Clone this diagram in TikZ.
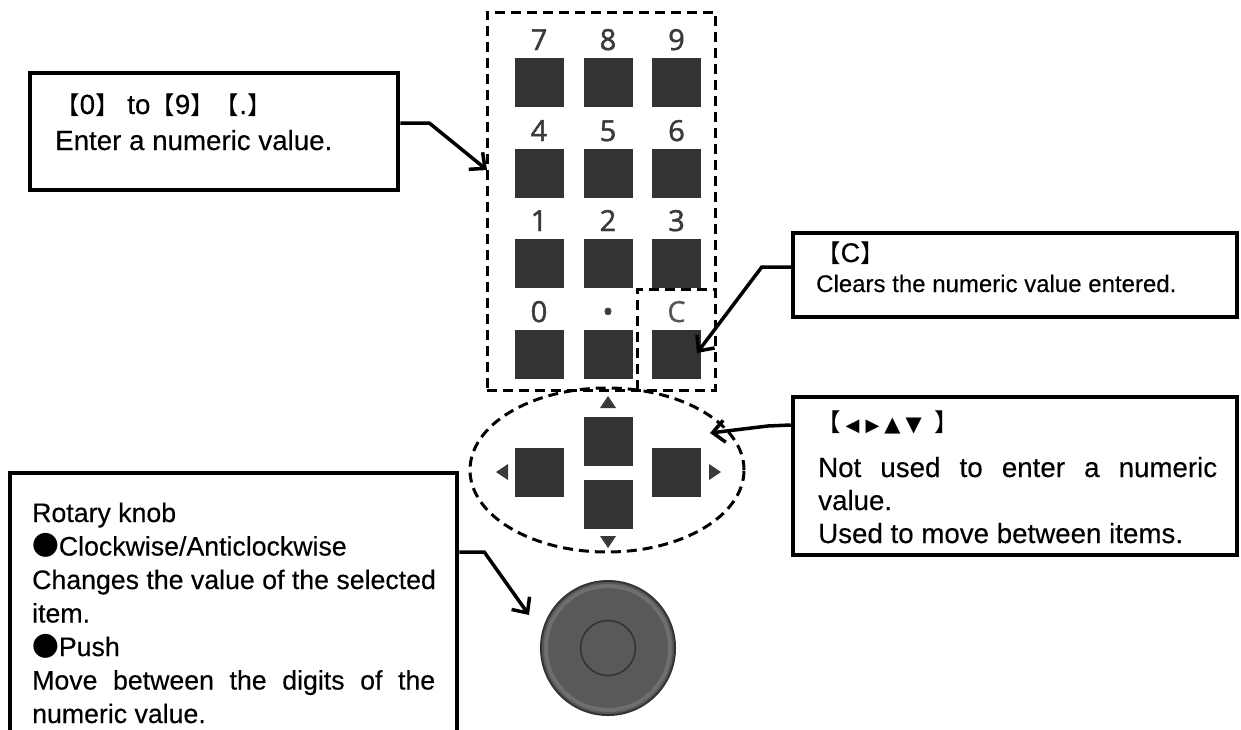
\documentclass[tikz,border=0pt]{standalone}
\usepackage{fontspec}
\setmainfont[FakeBold=0.3]{Liberation Sans}
\newfontfamily\cjk{Noto Sans CJK JP}
\newfontfamily\dejavu{DejaVu Sans}
\newfontfamily\keyfont[FakeBold=1.6]{Open Sans}
\newfontfamily\keyfontlight[FakeBold=0.5]{Open Sans}
\usetikzlibrary{arrows.meta,shapes.geometric}
\definecolor{keygray}{HTML}{333333}
\definecolor{labgray}{HTML}{3A3A3A}
\definecolor{knobgray}{HTML}{595959}
\definecolor{knobring}{HTML}{6E6E6E}
\definecolor{knobdark}{HTML}{333333}
\newcommand\bk[1]{{\cjk\fontsize{24.5pt}{24.5pt}\selectfont #1}}
\newcommand\trism[1]{{\dejavu\fontsize{18pt}{18pt}\selectfont #1}}
\newcommand\tribig[1]{{\dejavu\fontsize{21pt}{21pt}\selectfont #1}}
\begin{document}
\begin{tikzpicture}[x=1pt,y=-1pt,
  box/.style={draw=black, line width=4.5pt, inner sep=0pt, fill=white},
  dashline/.style={draw=black, line width=3pt, dash pattern=on 10pt off 6pt},
  dashbox/.style={dashline, inner sep=0pt},
  padkey/.style={fill=keygray, minimum size=49pt, inner sep=0pt},
  lab/.style={text=labgray, font=\keyfont\fontsize{29}{29}\selectfont, inner sep=0pt, anchor=base},
  txt/.style={inner sep=0pt, anchor=base west, font=\fontsize{27}{33}\selectfont},
  conn/.style={line width=3.5pt, -{Straight Barb[length=12pt,width=22pt]}},
  arrowtri/.style={fill=labgray}]
\clip (0,0) rectangle (1241,729);
\fill[white] (0,0) rectangle (1241,729);

% keypad frame and C frame
\node[dashbox, minimum width=228pt, minimum height=378pt] (pad) at (601,201) {};
\node[inner sep=0pt, minimum width=77pt, minimum height=100pt] (cframe) at (676.5,340) {};
\draw[dashline] (cframe.south west) -- (cframe.north west) -- (cframe.north east);
% oval around arrow keys
\node[dashbox, ellipse, minimum width=274pt, minimum height=164pt] (oval) at (607,470) {};

% numeric keys
\foreach \lbl/\x/\y in {7/539/82.5, 8/608/82.5, 9/676.5/82.5,
                        4/539/173.5, 5/608/173.5, 6/676.5/173.5,
                        1/539/263.5, 2/608/263.5, 3/676.5/263.5,
                        0/539/354.5, d/608/354.5, c/676.5/354.5}{
  \node[padkey] (k\lbl) at (\x,\y) {};
}
\node[lab] (l7) at (539,50) {7};
\node[lab] (l8) at (608,50) {8};
\node[lab] (l9) at (676.5,50) {9};
\node[lab] (l4) at (539,141) {4};
\node[lab] (l5) at (608,141) {5};
\node[lab] (l6) at (676.5,141) {6};
\node[lab] (l1) at (539,231) {1};
\node[lab] (l2) at (608,231) {2};
\node[lab] (l3) at (676.5,231) {3};
\node[lab] (l0) at (539,322) {0};
\node[lab] (ld) at (608,322) {•};
\node[lab, text=labgray!85, font=\keyfontlight\fontsize{29}{29}\selectfont] (lc) at (676.5,322) {C};

% arrow keys
\node[padkey] (kup) at (608,441) {};
\node[padkey] (kdown) at (608,504) {};
\node[padkey] (kleft) at (539.5,472.5) {};
\node[padkey] (kright) at (676.5,472.5) {};
\fill[arrowtri] (600,408) -- (616,408) -- (608,396) -- cycle;
\fill[arrowtri] (600,536) -- (616,536) -- (608,548) -- cycle;
\fill[arrowtri] (508,464) -- (508,480) -- (496,472) -- cycle;
\fill[arrowtri] (709,464) -- (709,480) -- (721,472) -- cycle;

% rotary knob
\node[circle, fill=knobgray, draw=knobdark, line width=2pt, minimum size=134pt, inner sep=0pt] (knob) at (608,648) {};
\draw[knobring, line width=4pt] (knob.center) circle (62);
\node[circle, draw=knobdark, line width=1.5pt, minimum size=55pt, inner sep=0pt] (knobc) at (knob.center) {};

% callout box A
\node[box, minimum width=368pt, minimum height=117pt] (boxA) at (214,131.5) {};
\node[txt, font=\fontsize{27.7}{33}\selectfont] (tA1) at (55,114) {\bk{【}0\bk{】} to\bk{【}9\bk{】【}.\bk{】}};
\node[txt, font=\fontsize{27.7}{33}\selectfont] (tA2) at (55,150) {Enter a numeric value.};

% callout box C
\node[box, minimum width=444pt, minimum height=84pt] (boxC) at (1015,275) {};
\node[txt] (tC1) at (816,262) {\bk{【}C\bk{】}};
\node[txt, font=\fontsize{24}{28}\selectfont] (tC2) at (816,292) {Clears the numeric value entered.};

% callout box arrows
\node[box, minimum width=444pt, minimum height=158pt] (boxE) at (1015,476) {};
\node[txt] (tE1) at (816,431) {\bk{【}\hspace{5pt}\trism{◀}\hspace{6pt}\trism{▶}\hspace{5pt}\tribig{▲}\hspace{5pt}\tribig{▼}\hspace{13pt}\bk{】}};
\node[txt, font=\fontsize{27.7}{33}\selectfont] (tE2) at (818,477) {\makebox[399pt][s]{Not used to enter a numeric}};
\node[txt, font=\fontsize{27.7}{33}\selectfont] (tE3) at (818,510) {value.};
\node[txt, font=\fontsize{27.7}{33}\selectfont] (tE4) at (818,543) {Used to move between items.};

% callout box rotary knob
\node[box, minimum width=447pt, minimum height=272pt] (boxR) at (233.5,609) {};
\begin{scope}[rt/.style={txt, font=\fontsize{26.7}{33}\selectfont}]
\node[rt] (tR1) at (32,522) {Rotary knob};
\node[rt] (tR2) at (32,555.5) {{\cjk ●}Clockwise/Anticlockwise};
\node[rt] (tR3) at (32,589) {Changes the value of the selected};
\node[rt] (tR4) at (32,622.5) {item.};
\node[rt] (tR5) at (32,656) {{\cjk ●}Push};
\node[rt] (tR6) at (32,689.5) {\makebox[403pt][s]{Move between the digits of the}};
\node[rt] (tR7) at (32,723) {numeric value.};
\end{scope}

% connector end points
\coordinate (tipA) at (487,170);
\coordinate (tipC) at (697,353);
\coordinate (tipE) at (710,433);
\coordinate (tipK) at (529,615);

\draw[conn] ([yshift=8.5pt]boxA.east) -- ++(29,0) -- (tipA);
\draw[conn] ([yshift=8pt]boxC.west) -- ++(-29,0) -- (tipC);
\draw[conn] ([yshift=51pt]boxE.west) -- ++(-23,1) -- (tipE);
\draw[conn] ([yshift=57pt]boxR.east) -- ++(25,0) -- (tipK);
\end{tikzpicture}
\end{document}
